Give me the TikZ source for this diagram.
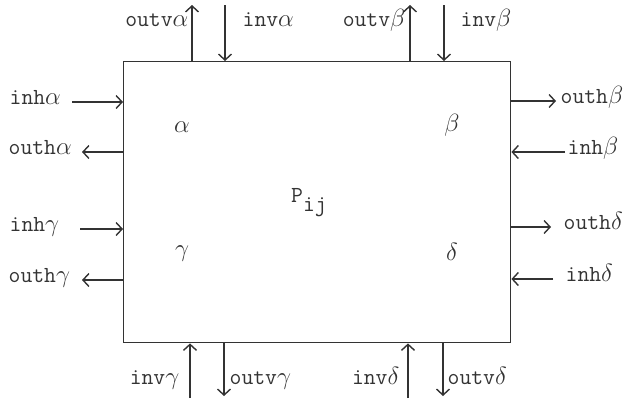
\documentclass[tikz,border=0pt]{standalone}
\usepackage{fontspec}
\usepackage{xcolor}
\usetikzlibrary{arrows.meta}
\definecolor{ink}{HTML}{333333}

\begin{document}
\begin{tikzpicture}[x=1pt,y=-1pt,>={Straight Barb[length=6pt,width=13pt]},
  line width=1.4pt,draw=ink,text=ink,font=\ttfamily\fontsize{23}{26}\selectfont,
  lbl/.style={inner sep=0pt}]
\useasboundingbox (0,0) rectangle (627,399);
% the processor cell
\node[draw,minimum width=387pt,minimum height=281pt,inner sep=0pt,anchor=north west] (P) at (123,61) {};
\node (pij) at (309,203) {P\raisebox{-9pt}{ij}};
\node (a) at (182,127) {$\alpha$};
\node (b) at (452,125) {$\beta$};
\node (g) at (182,254) {$\gamma$};
\node (d) at (452,252) {$\delta$};
% top
\coordinate (tva) at (192,5);
\coordinate (tia) at (225,5);
\coordinate (tvb) at (410,5);
\coordinate (tib) at (444,5);
\draw[->] (tva |- P.north) -- (tva);
\draw[->] (tia) -- (tia |- P.north);
\draw[->] (tvb |- P.north) -- (tvb);
\draw[->] (tib) -- (tib |- P.north);
\node[lbl,anchor=mid east] (outva) at (189,24) {outv$\alpha$};
\node[lbl,anchor=mid west] (inva) at (242,24) {inv$\alpha$};
\node[lbl,anchor=mid east] (outvb) at (406,24) {outv$\beta$};
\node[lbl,anchor=mid west] (invb) at (460,24) {inv$\beta$};
% left
\node[lbl,anchor=mid west] (inha) at (9,102) {inh$\alpha$};
\node[lbl,anchor=mid west] (outha) at (8,152) {outh$\alpha$};
\node[lbl,anchor=mid west] (inhg) at (9,229) {inh$\gamma$};
\node[lbl,anchor=mid west] (outhg) at (8,280) {outh$\gamma$};
\draw[->] (72,102) -- (P.west |- inha.mid east);
\draw[->] (P.west |- outha.mid east) -- (82,152);
\draw[->] (80,229) -- (P.west |- inhg.mid east);
\draw[->] (P.west |- outhg.mid east) -- (82,280);
% right
\node[lbl,anchor=mid west] (outhb) at (560,101) {outh$\beta$};
\node[lbl,anchor=mid west] (inhb) at (567,152) {inh$\beta$};
\node[lbl,anchor=mid west] (outhd) at (563,227) {outh$\delta$};
\node[lbl,anchor=mid west] (inhd) at (565,279) {inh$\delta$};
\draw[->] (P.east |- outhb.mid west) -- (556,101);
\draw[->] (565,152) -- (P.east |- inhb.mid west);
\draw[->] (P.east |- outhd.mid west) -- (551,227);
\draw[->] (553,279) -- (P.east |- inhd.mid west);
% bottom
\coordinate (big) at (190,398);
\coordinate (bvg) at (224,396);
\coordinate (bid) at (408,398);
\coordinate (bvd) at (443,396);
\draw[->] (big) -- (big |- P.south);
\draw[->] (bvg |- P.south) -- (bvg);
\draw[->] (bid) -- (bid |- P.south);
\draw[->] (bvd |- P.south) -- (bvd);
\node[lbl,anchor=mid east] (invg) at (180,382) {inv$\gamma$};
\node[lbl,anchor=mid west] (outvg) at (229,382) {outv$\gamma$};
\node[lbl,anchor=mid east] (invd) at (400,382) {inv$\delta$};
\node[lbl,anchor=mid west] (outvd) at (447,382) {outv$\delta$};
\end{tikzpicture}
\end{document}
